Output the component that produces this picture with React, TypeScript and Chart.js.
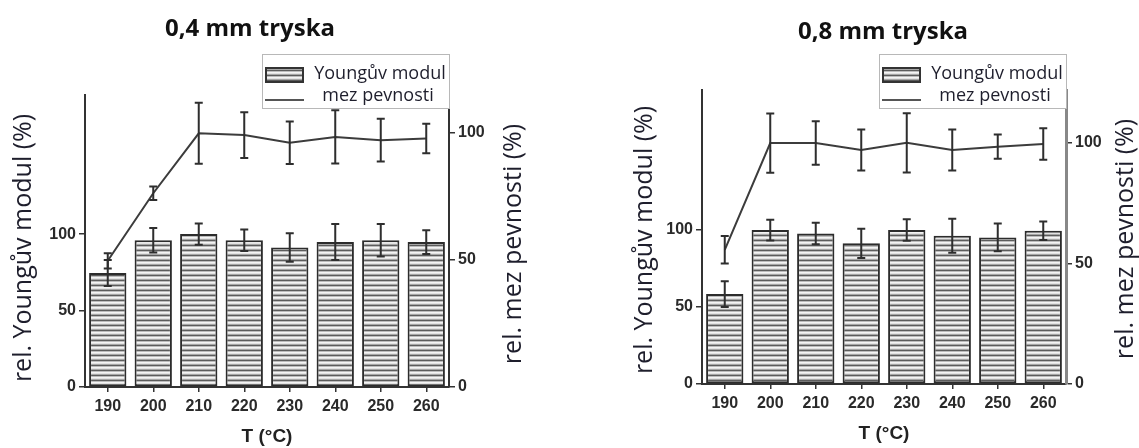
import React, { useEffect, useRef } from 'react';
import { Chart, registerables } from 'chart.js';

Chart.register(...registerables);

// ---------- data ----------
const temperatures = ['190', '200', '210', '220', '230', '240', '250', '260'];
const yTicks = [0, 50, 100];

const young04 = [74.5, 96, 100, 96, 91.3, 94.8, 96, 94.8];
const young04Err = [8.5, 8, 7, 7, 9.3, 11.8, 10.7, 7.8];
const strength04 = [49.7, 76.3, 99.9, 99.2, 96.2, 98.5, 97.2, 97.9];
const strength04Err = [3, 2.7, 12, 9, 8.4, 10.5, 8.4, 5.8];

const young08 = [58.4, 100, 97.8, 91.4, 100, 96.3, 95.2, 99.6];
const young08Err = [8.4, 6.7, 7, 9.5, 7, 11, 9, 6];
const strength08 = [55.7, 100, 100, 97.1, 100.1, 97.1, 98.5, 99.6];
const strength08Err = [5.7, 12.3, 9, 8.5, 12.3, 8.5, 5, 6.5];

const chartTitles = ['0,4 mm tryska', '0,8 mm tryska'];
const leftAxisTitle = 'rel. Youngův modul (%)';
const rightAxisTitle = 'rel. mez pevnosti (%)';
const xAxisTitle = 'T (°C)';
const legendLabels = ['Youngův modul', 'mez pevnosti'];

// ---------- helpers ----------
const TICK_FONT = { family: '"Liberation Sans", Arial, sans-serif', weight: 'bold' as const, size: 16 };
const TEXT_FAMILY = '"Open Sans", "DejaVu Sans", sans-serif';

function makeStripePattern(): CanvasPattern | string {
  const c = document.createElement('canvas');
  c.width = 4;
  c.height = 5;
  const g = c.getContext('2d');
  if (!g) return '#bbb';
  const rows = ['#5c5c5c', '#bcbcbc', '#f4f4f4', '#e2e2e2', '#a6a6a6'];
  rows.forEach((col, i) => {
    g.fillStyle = col;
    g.fillRect(0, i, 4, 1);
  });
  const p = g.createPattern(c, 'repeat');
  return p || '#bbb';
}

const overlayPlugin = {
  id: 'overlay',
  afterDatasetsDraw(chart: any, _args: any, opts: any) {
    const ctx = chart.ctx as CanvasRenderingContext2D;
    ctx.save();
    ctx.strokeStyle = '#2e2e2e';
    ctx.lineWidth = 2;
    const cap = 4;
    for (const set of opts.errorSets || []) {
      const meta = chart.getDatasetMeta(set.datasetIndex);
      const ds = chart.data.datasets[set.datasetIndex];
      const scale = chart.scales[meta.yAxisID];
      meta.data.forEach((el: any, i: number) => {
        const v = ds.data[i] as number;
        const e = set.values[i] as number;
        const x = el.x;
        const yT = scale.getPixelForValue(v + e);
        const yB = scale.getPixelForValue(v - e);
        ctx.beginPath();
        ctx.moveTo(x, yT);
        ctx.lineTo(x, yB);
        ctx.moveTo(x - cap, yT);
        ctx.lineTo(x + cap, yT);
        ctx.moveTo(x - cap, yB);
        ctx.lineTo(x + cap, yB);
        ctx.stroke();
      });
    }
    ctx.restore();
  },
  afterDraw(chart: any, _args: any, opts: any) {
    const ctx = chart.ctx as CanvasRenderingContext2D;
    const area = chart.chartArea;
    ctx.save();
    // title
    ctx.fillStyle = '#111';
    ctx.textAlign = 'center';
    ctx.textBaseline = 'middle';
    ctx.font = `bold 24px ${TEXT_FAMILY}`;
    ctx.fillText(opts.title.text, opts.title.x, opts.title.y);

    // axis titles (rotated, reading bottom to top)
    ctx.font = `25px ${TEXT_FAMILY}`;
    ctx.fillStyle = '#1e1e2c';
    for (const t of opts.axisTitles) {
      ctx.save();
      ctx.translate(t.x, t.y);
      ctx.rotate(-Math.PI / 2);
      ctx.fillText(t.text, 0, 0);
      ctx.restore();
    }

    // legend
    const lg = opts.legend;
    const bx = area.right + lg.dx - lg.w;
    const by = lg.top;
    ctx.fillStyle = '#fff';
    ctx.fillRect(bx, by, lg.w, lg.h);
    ctx.strokeStyle = '#b8b8b8';
    ctx.lineWidth = 1;
    ctx.strokeRect(bx + 0.5, by + 0.5, lg.w - 1, lg.h - 1);
    ctx.fillStyle = lg.pattern;
    ctx.fillRect(bx + 3, by + 13, 39, 16);
    ctx.strokeStyle = '#333';
    ctx.lineWidth = 2;
    ctx.strokeRect(bx + 4, by + 14, 37, 14);
    ctx.strokeStyle = '#555';
    ctx.beginPath();
    ctx.moveTo(bx + 3, by + 46);
    ctx.lineTo(bx + 42, by + 46);
    ctx.stroke();
    ctx.fillStyle = '#1e1e2c';
    ctx.font = `18px ${TEXT_FAMILY}`;
    ctx.fillText(lg.labels[0], bx + 118, by + 20);
    ctx.fillText(lg.labels[1], bx + 116, by + 42);
    ctx.restore();
  },
};

interface PanelProps {
  left: number;
  width: number;
  title: string;
  titleX: number;
  titleY: number;
  young: number[];
  youngErr: number[];
  strength: number[];
  strengthErr: number[];
  leftWidth: number;
  rightWidth: number;
  top: number;
  xHeight: number;
  yMax: number;
  y1Max: number;
  leftTitleX: number;
  leftTitleY: number;
  rightTitleX: number;
  rightTitleY: number;
  xTitlePad: number;
  rightAxisColor: string;
  rightAxisWidth: number;
}

function Panel(p: PanelProps) {
  const ref = useRef<HTMLCanvasElement>(null);
  useEffect(() => {
    const canvas = ref.current;
    if (!canvas) return;
    const pattern = makeStripePattern();
    const setTicks = (axis: any) => {
      axis.ticks = yTicks.map((v) => ({ value: v }));
    };
    const chart = new Chart(canvas, {
      type: 'bar',
      data: {
        labels: temperatures,
        datasets: [
          {
            type: 'bar',
            label: legendLabels[0],
            data: p.young,
            yAxisID: 'y',
            backgroundColor: pattern as any,
            borderColor: '#2c2c2c',
            borderWidth: 2,
            borderSkipped: false,
            barPercentage: 0.82,
            categoryPercentage: 1,
            order: 2,
          } as any,
          {
            type: 'line',
            label: legendLabels[1],
            data: p.strength,
            yAxisID: 'y1',
            borderColor: '#3c3c3c',
            borderWidth: 2,
            pointRadius: 0,
            tension: 0,
            fill: false,
            order: 1,
          } as any,
        ],
      },
      options: {
        responsive: false,
        animation: false,
        devicePixelRatio: 1,
        layout: { padding: { top: p.top, left: 0, right: 0, bottom: 0 } },
        plugins: {
          legend: { display: false },
          tooltip: { enabled: false },
          title: { display: false },
          overlay: {
            errorSets: [
              { datasetIndex: 0, values: p.youngErr },
              { datasetIndex: 1, values: p.strengthErr },
            ],
            title: { text: p.title, x: p.titleX, y: p.titleY },
            axisTitles: [
              { text: leftAxisTitle, x: p.leftTitleX, y: p.leftTitleY },
              { text: rightAxisTitle, x: p.rightTitleX, y: p.rightTitleY },
            ],
            legend: { dx: 1, w: 188, top: 54, h: 55, pattern, labels: legendLabels },
          },
        } as any,
        scales: {
          x: {
            type: 'category',
            offset: true,
            grid: {
              display: true,
              offset: false,
              drawOnChartArea: false,
              drawTicks: true,
              tickLength: 5,
              color: '#333',
              lineWidth: 1.5,
            },
            border: { display: true, color: '#333', width: 2 },
            ticks: { font: TICK_FONT, color: '#2a2a2a', padding: 5, maxRotation: 0 },
            title: {
              display: true,
              text: xAxisTitle,
              font: { family: TICK_FONT.family, weight: 'bold', size: 19 },
              color: '#222',
              padding: { top: 0, bottom: p.xTitlePad },
            },
            afterFit: (s: any) => {
              s.height = p.xHeight;
            },
          },
          y: {
            type: 'linear',
            position: 'left',
            min: 0,
            max: p.yMax,
            afterBuildTicks: setTicks,
            grid: {
              display: true,
              drawOnChartArea: false,
              drawTicks: true,
              tickLength: 6,
              color: '#333',
              lineWidth: 1.5,
            },
            border: { display: true, color: '#333', width: 2 },
            ticks: { font: TICK_FONT, color: '#2a2a2a', padding: 3 },
            afterFit: (s: any) => {
              s.width = p.leftWidth;
            },
          },
          y1: {
            type: 'linear',
            position: 'right',
            min: 0,
            max: p.y1Max,
            afterBuildTicks: setTicks,
            grid: {
              display: true,
              drawOnChartArea: false,
              drawTicks: true,
              tickLength: 6,
              color: '#333',
              lineWidth: 1.5,
            },
            border: { display: true, color: p.rightAxisColor, width: p.rightAxisWidth },
            ticks: { font: TICK_FONT, color: '#2a2a2a', padding: 3 },
            afterFit: (s: any) => {
              s.width = p.rightWidth;
            },
          },
        } as any,
      },
      plugins: [overlayPlugin as any],
    });
    return () => chart.destroy();
  }, []);
  return (
    <canvas
      ref={ref}
      width={p.width}
      height={448}
      style={{ position: 'absolute', left: p.left, top: 0, width: p.width, height: 448, display: 'block' }}
    />
  );
}

export default function App() {
  return (
    <div style={{ position: 'absolute', left: 0, top: 0, width: 1139, height: 448, background: '#fff', overflow: 'hidden' }}>
      <Panel
        left={0}
        width={570}
        title={chartTitles[0]}
        titleX={250}
        titleY={29}
        young={young04}
        youngErr={young04Err}
        strength={strength04}
        strengthErr={strength04Err}
        leftWidth={85}
        rightWidth={121}
        top={95}
        xHeight={61}
        yMax={191}
        y1Max={115}
        leftTitleX={24}
        leftTitleY={248}
        rightTitleX={514}
        rightTitleY={244}
        xTitlePad={0}
        rightAxisColor="#333"
        rightAxisWidth={2}
      />
      <Panel
        left={570}
        width={569}
        title={chartTitles[1]}
        titleX={313}
        titleY={32}
        young={young08}
        youngErr={young08Err}
        strength={strength08}
        strengthErr={strength08Err}
        leftWidth={132}
        rightWidth={73}
        top={90}
        xHeight={64}
        yMax={191}
        y1Max={122}
        leftTitleX={75}
        leftTitleY={240}
        rightTitleX={556}
        rightTitleY={239}
        xTitlePad={3}
        rightAxisColor="#888"
        rightAxisWidth={3}
      />
    </div>
  );
}
